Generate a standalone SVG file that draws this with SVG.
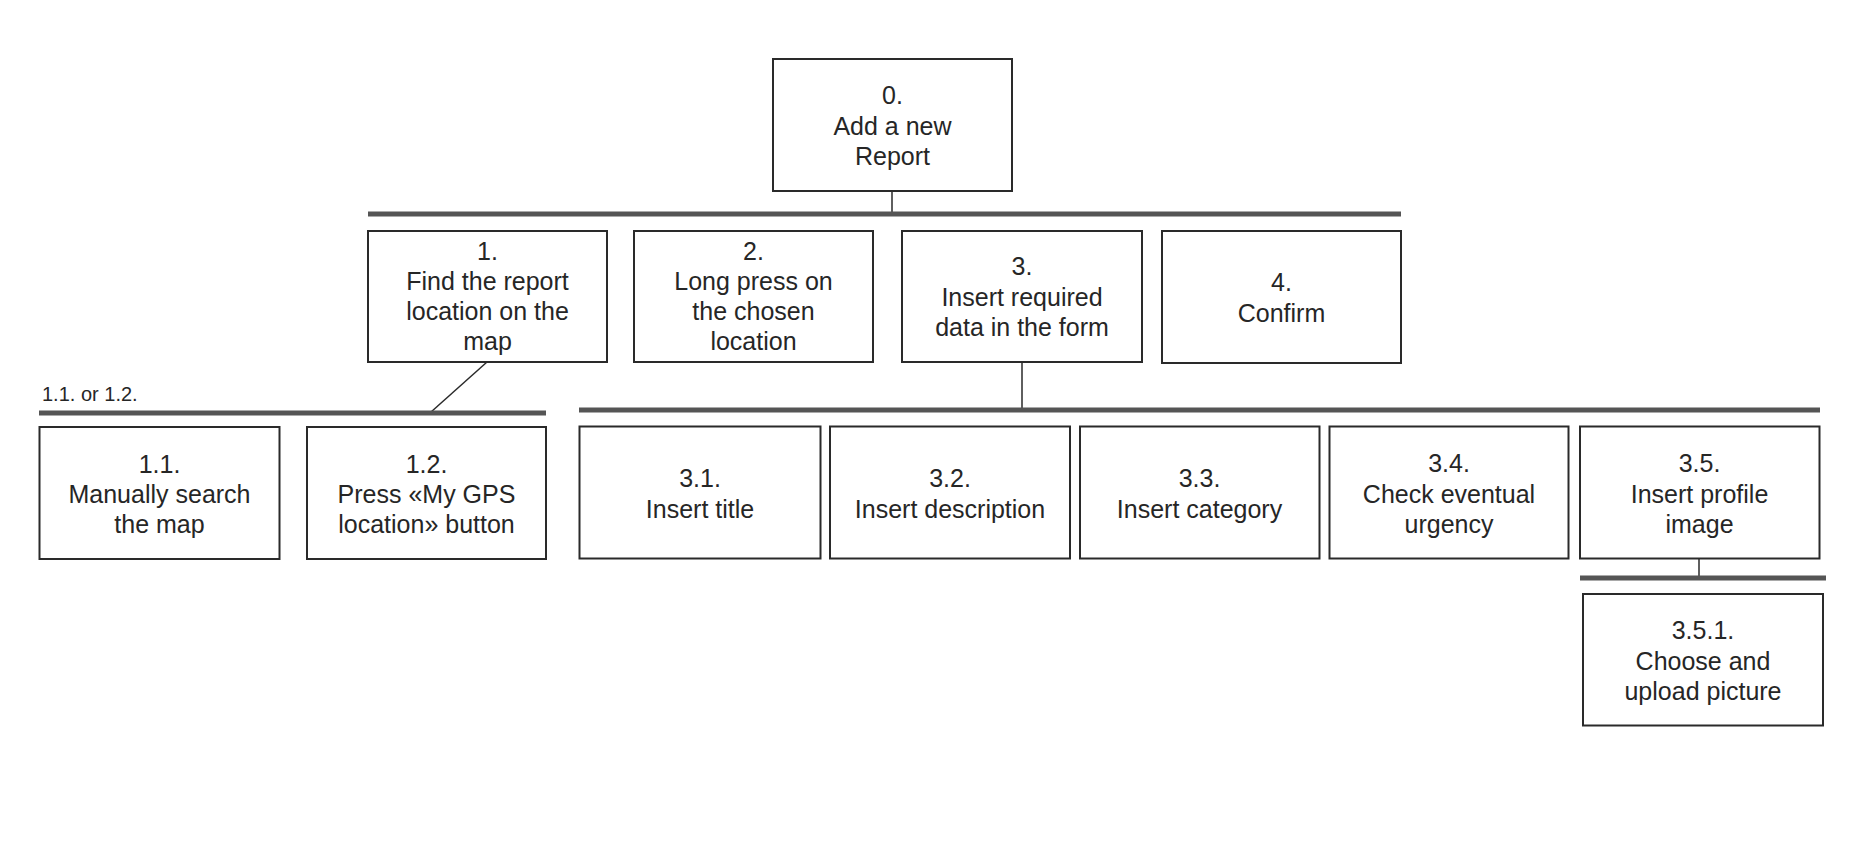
<svg xmlns="http://www.w3.org/2000/svg" width="1873" height="841" viewBox="0 0 1873 841">
<style>
.box{fill:#fff;stroke:#2a2a2a;stroke-width:2}
.t{font-family:"Liberation Sans",Arial,sans-serif;font-size:25px;fill:#262626;text-anchor:middle}
.bar{stroke:#555;stroke-width:5;fill:none}
.ln{stroke:#2a2a2a;stroke-width:1.5;fill:none}
.lbl{font-family:"Liberation Sans",Arial,sans-serif;font-size:20px;fill:#262626}
</style>
<rect width="1873" height="841" fill="#fff"/>
<g id="connectors">
<line class="ln" x1="892" y1="191" x2="892" y2="214"/>
<line class="bar" x1="368" y1="214" x2="1401" y2="214"/>
<line class="ln" x1="487" y1="362" x2="431" y2="412"/>
<line class="bar" x1="39" y1="413" x2="546" y2="413"/>
<line class="ln" x1="1022" y1="362" x2="1022" y2="410"/>
<line class="bar" x1="579" y1="410" x2="1820" y2="410"/>
<line class="ln" x1="1699" y1="559" x2="1699" y2="578"/>
<line class="bar" x1="1580" y1="578" x2="1826" y2="578"/>
<text class="lbl" x="42" y="401">1.1. or 1.2.</text>
</g>
<g id="n0"><rect class="box" x="773" y="59" width="239" height="132"/>
<text class="t" x="892.5" y="104">0.</text><text class="t" x="892.5" y="134.5">Add a new</text><text class="t" x="892.5" y="165">Report</text></g>
<g id="n1"><rect class="box" x="368" y="231" width="239" height="131"/>
<text class="t" x="487.5" y="260">1.</text><text class="t" x="487.5" y="290">Find the report</text><text class="t" x="487.5" y="320">location on the</text><text class="t" x="487.5" y="350">map</text></g>
<g id="n2"><rect class="box" x="634" y="231" width="239" height="131"/>
<text class="t" x="753.5" y="260">2.</text><text class="t" x="753.5" y="290">Long press on</text><text class="t" x="753.5" y="320">the chosen</text><text class="t" x="753.5" y="350">location</text></g>
<g id="n3"><rect class="box" x="902" y="231" width="240" height="131"/>
<text class="t" x="1022" y="275">3.</text><text class="t" x="1022" y="305.5">Insert required</text><text class="t" x="1022" y="336">data in the form</text></g>
<g id="n4"><rect class="box" x="1162" y="231" width="239" height="132"/>
<text class="t" x="1281.5" y="290.5">4.</text><text class="t" x="1281.5" y="321.5">Confirm</text></g>
<g id="n1_1"><rect class="box" x="39.5" y="427" width="240" height="132"/>
<text class="t" x="159.5" y="473">1.1.</text><text class="t" x="159.5" y="503">Manually search</text><text class="t" x="159.5" y="533">the map</text></g>
<g id="n1_2"><rect class="box" x="307" y="427" width="239" height="132"/>
<text class="t" x="426.5" y="473">1.2.</text><text class="t" x="426.5" y="503">Press «My GPS</text><text class="t" x="426.5" y="533">location» button</text></g>
<g id="n3_1"><rect class="box" x="579.5" y="426.5" width="241" height="132"/>
<text class="t" x="700" y="487">3.1.</text><text class="t" x="700" y="517.5">Insert title</text></g>
<g id="n3_2"><rect class="box" x="830" y="426.5" width="240" height="132"/>
<text class="t" x="950" y="487">3.2.</text><text class="t" x="950" y="517.5">Insert description</text></g>
<g id="n3_3"><rect class="box" x="1080" y="426.5" width="239.5" height="132"/>
<text class="t" x="1199.5" y="487">3.3.</text><text class="t" x="1199.5" y="517.5">Insert category</text></g>
<g id="n3_4"><rect class="box" x="1329.5" y="426.5" width="239" height="132"/>
<text class="t" x="1449" y="472">3.4.</text><text class="t" x="1449" y="502.5">Check eventual</text><text class="t" x="1449" y="533">urgency</text></g>
<g id="n3_5"><rect class="box" x="1580" y="426.5" width="239.5" height="132"/>
<text class="t" x="1699.5" y="472">3.5.</text><text class="t" x="1699.5" y="502.5">Insert profile</text><text class="t" x="1699.5" y="533">image</text></g>
<g id="n3_5_1"><rect class="box" x="1583" y="594" width="240" height="131.5"/>
<text class="t" x="1703" y="639">3.5.1.</text><text class="t" x="1703" y="669.5">Choose and</text><text class="t" x="1703" y="700">upload picture</text></g>
</svg>
